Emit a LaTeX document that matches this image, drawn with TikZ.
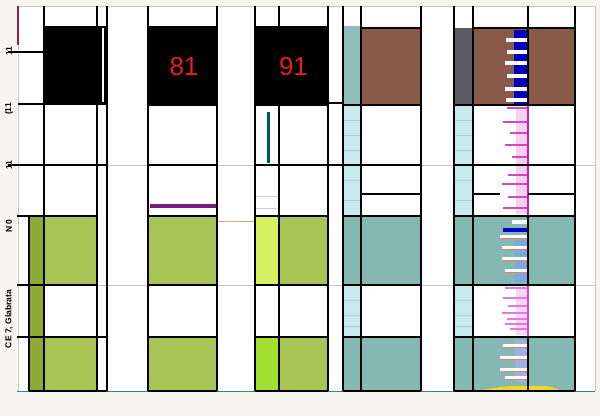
\documentclass[tikz,border=0pt]{standalone}
\usepackage{fontspec}
\setmainfont{Liberation Sans}
\definecolor{brn}{RGB}{138,90,72}
\definecolor{dgr}{RGB}{92,90,98}
\definecolor{tealA}{RGB}{143,189,185}
\definecolor{lblu}{RGB}{197,234,242}
\definecolor{tealB}{RGB}{132,184,178}
\definecolor{grn}{RGB}{168,196,85}
\definecolor{olv}{RGB}{141,170,50}
\definecolor{ygr}{RGB}{214,240,96}
\definecolor{bgr}{RGB}{162,224,48}
\definecolor{prp}{RGB}{122,26,122}
\definecolor{bgc}{RGB}{246,245,239}
\definecolor{redn}{RGB}{232,30,30}
\definecolor{mag}{RGB}{200,30,170}
\definecolor{pnk}{RGB}{232,120,222}
\definecolor{mar}{RGB}{150,30,70}
\definecolor{ylw}{RGB}{236,216,40}
\begin{document}
\begin{tikzpicture}[x=1pt,y=-1pt,
  vl/.style={line width=2.7pt,black},
  hl/.style={line width=2pt,black},
  faint/.style={line width=0.8pt,gray!45},
  lbl/.style={rotate=90,font=\bfseries\fontsize{8.5}{8.5}\selectfont,inner sep=0pt},
  big/.style={font=\fontsize{26}{26}\selectfont,text=redn,inner sep=0pt}]
\useasboundingbox (0,0) rectangle (600,416);
\fill[bgc] (0,0) rectangle (600,416);
\fill[white] (17,6) rectangle (595,391);
% ---- top band fills
\fill[black] (44,26) rectangle (107,105);
\fill[white] (102.3,28) rectangle (104,102);
\fill[black] (148,26) rectangle (217,105);
\fill[black] (255,26) rectangle (328,105);
\fill[tealA] (343,26) rectangle (361,105);
\fill[brn] (361,28) rectangle (421,105);
\fill[dgr] (454,28) rectangle (473,105);
\fill[brn] (473,28) rectangle (575,105);
% ---- middle band
\fill[lblu] (343,105) rectangle (361,216);
\fill[lblu] (454,105) rectangle (473,216);
\fill[prp] (150,203.5) rectangle (217,207.5);
\fill[teal!70!black] (267,112) rectangle (270,163);
% ---- lower bands
\fill[olv] (29,216) rectangle (44,391);
\fill[grn] (44,216) rectangle (97,285);
\fill[grn] (44,337) rectangle (97,391);
\fill[grn] (148,216) rectangle (217,285);
\fill[grn] (148,337) rectangle (217,391);
\fill[ygr] (255,216) rectangle (279,285);
\fill[bgr] (255,337) rectangle (279,391);
\fill[grn] (279,216) rectangle (328,285);
\fill[grn] (279,337) rectangle (328,391);
\fill[tealB] (343,216) rectangle (421,285);
\fill[tealB] (343,337) rectangle (421,391);
\fill[lblu] (343,285) rectangle (361,337);
\fill[tealB] (454,216) rectangle (575,285);
\fill[tealB] (454,337) rectangle (575,391);
\fill[lblu] (454,285) rectangle (473,337);
% faint lines in light-blue strips
\foreach \y in {120,135,150,180,200,300,315,326}{
  \draw[lblu!70!gray,line width=0.5pt] (343,\y) -- (361,\y);
  \draw[lblu!70!gray,line width=0.5pt] (454,\y) -- (473,\y);}
\draw[gray!35,line width=0.6pt] (256,196) -- (278,196);
\draw[gray!35,line width=0.6pt] (256,208) -- (278,208);
% ---- bars column
\fill[blue!75!black] (514,30) rectangle (527,104);
\foreach \y/\x in {40/506,52/507,63/505,76/507,89/505,100/506}
  \fill[white] (\x,\y-1.6) rectangle (527,\y+1.6);
\fill[pnk!35] (516,107) rectangle (527,214);
\foreach \y/\x in {108/507,122/503,133/510,145/505,157/512,175/508,184/502,197/508,208/503}
  \fill[mag!80] (\x,\y-1.3) rectangle (527,\y+1.3);
\fill[cyan!60!blue!55] (515,240) rectangle (527,282);
\fill[white] (512,220) rectangle (527,224);
\fill[blue!80!black] (503,228) rectangle (527,232);
\foreach \y/\x in {237/500,248/502,259/502,271/505}{
  \fill[red!55] (\x,\y+1) rectangle (527,\y+2);
  \fill[white] (\x,\y-1.6) rectangle (527,\y+1);}
\fill[pnk!30] (516,287) rectangle (527,335);
\foreach \y/\x in {288/505,298/503,306/508,313/502,319/507,324/505,329/510}
  \fill[pnk] (\x,\y-1.2) rectangle (527,\y+1.2);
\fill[cyan!45!blue!40] (515,340) rectangle (527,382);
\foreach \y/\x in {346/503,358/500,370/500,378/505}{
  \fill[red!55] (\x,\y+1) rectangle (527,\y+2);
  \fill[white] (\x,\y-1.6) rectangle (527,\y+1);}
\fill[ylw] (475,391) .. controls (500,387) .. (510,386) -- (545,386) .. controls (553,387) .. (562,391) -- cycle;
% ---- faint full-width lines
\draw[faint] (17,6) -- (595,6);
\draw[faint] (17,165) -- (595,165);
\draw[faint] (17,285) -- (595,285);
\draw[faint] (18,6) -- (18,391);
\draw[faint] (595,6) -- (595,391);
\draw[gray!50!teal,line width=0.8pt] (17,391) -- (595,391);
\draw[mar,line width=1.2pt] (18,6) -- (18,45);
\draw[brown!70,line width=0.8pt] (217,221) -- (255,221);
% ---- vertical black lines
\foreach \x in {44,97,107,148,217,255,279,328,343,361,421,454,473,528,575}
  \draw[vl] (\x,6) -- (\x,391);
\draw[vl] (29,216) -- (29,391);
\draw[mag,line width=2pt] (528,106) -- (528,215);
\draw[mag!80,line width=2pt] (528,286) -- (528,336);
% ---- horizontal black lines
\draw[hl] (8,52) -- (44,52);
\draw[hl] (18,104) -- (44,104);
\draw[hl] (8,165) -- (107,165);
\draw[hl] (17,216) -- (97,216);
\draw[hl] (17,285) -- (97,285);
\draw[hl] (17,337) -- (107,337);
\foreach \a/\b in {148/217,255/328,343/421,454/575}{
  \draw[hl] (\a,105) -- (\b,105);
  \draw[hl] (\a,165) -- (\b,165);
  \draw[hl] (\a,216) -- (\b,216);
  \draw[hl] (\a,285) -- (\b,285);
  \draw[hl] (\a,337) -- (\b,337);
  \draw[hl] (\a,391) -- (\b,391);}
\draw[hl] (29,391) -- (107,391);
\draw[hl] (328,103) -- (343,103);
\draw[hl] (328,165) -- (343,165);
\draw[hl] (361,28) -- (421,28);
\draw[hl] (473,28) -- (575,28);
\draw[hl] (361,194) -- (421,194);
\draw[hl] (473,194) -- (500,194);
\draw[hl] (528,194) -- (575,194);
% ---- texts
\node[big] (t81) at (184,67) {81};
\node[big] (t91) at (293.5,67) {91};
\node[lbl] (l1) at (9,51) {11};
\node[lbl] (l2) at (9,109) {(11};
\node[lbl] (l3) at (9,165) {11};
\node[lbl] (l4) at (9,226) {N 0};
\node[lbl] (l5) at (9,319) {CE 7, Glabrata};
\end{tikzpicture}
\end{document}
